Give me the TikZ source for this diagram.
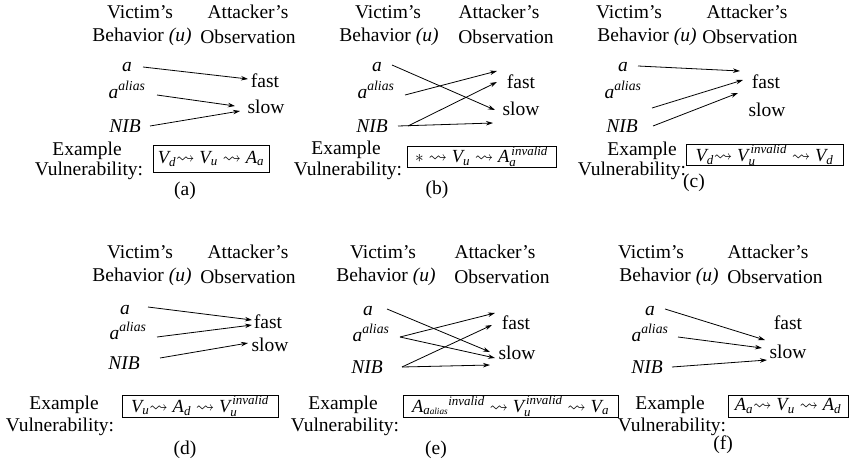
\documentclass[tikz,border=0pt]{standalone}
\usepackage{amsmath,amssymb}
\usepackage{fontspec}
\setmainfont{Liberation Serif}
\usetikzlibrary{arrows.meta}
\newcommand{\itx}[1]{\textit{#1}}
\newcommand{\sq}{\rightsquigarrow}
\newcommand{\tsq}{\mathrel{\mkern-5mu\rightsquigarrow}}
\tikzset{
  txt/.style={inner sep=0pt, font=\fontsize{19.5}{22}\selectfont},
  arr/.style={-{Stealth[length=7pt,width=4.5pt]}, line width=0.8pt},
  vbox/.style={draw, line width=0.8pt, inner sep=0pt, font=\fontsize{18.5}{20}\selectfont}
}
\begin{document}
\begin{tikzpicture}[x=1pt,y=-1pt]
\useasboundingbox (0,0) rectangle (849,466);
% ---------- panel (a)
\node[txt] (v1) at (140,12) {Victim’s};
\node[txt] (b1) at (142,37) {Behavior \itx{(u)}};
\node[txt] (t1) at (248,12) {Attacker’s};
\node[txt] (o1) at (248,37) {Observation};
\node[txt] (a1) at (127,67) {\itx{a}};
\node[txt] (l1) at (127,90) {\itx{a}$^{\itx{alias}}$};
\node[txt] (n1) at (125,126) {\itx{NIB}};
\node[txt] (f1) at (265,81) {fast};
\node[txt] (s1) at (266,107) {slow};
\draw[arr] ([shift={(16,0)}]a1.center) -- ([shift={(-17,-2)}]f1.center);
\draw[arr] ([shift={(30,5)}]l1.center) -- ([shift={(-31,-1)}]s1.center);
\draw[arr] ([shift={(25,0)}]n1.center) -- ([shift={(-26,4)}]s1.center);
\node[txt] (e1) at (87,151) {Example};
\node[txt] (u1) at (89,171) {Vulnerability:};
\node[vbox, minimum width=116pt, minimum height=27pt] (x1) at (211,158.5) {$\itx{V}_{\itx{d}}\tsq \itx{V}_{\itx{u}}\sq \itx{A}_{\itx{a}}$};
\node[txt] (c1) at (185,191) {(a)};
% ---------- panel (b)
\node[txt] (v2) at (388,12) {Victim’s};
\node[txt] (b2) at (389,37) {Behavior \itx{(u)}};
\node[txt] (t2) at (499,12) {Attacker’s};
\node[txt] (o2) at (506,37) {Observation};
\node[txt] (a2) at (377,67) {\itx{a}};
\node[txt] (l2) at (376,90) {\itx{a}$^{\itx{alias}}$};
\node[txt] (n2) at (372,126) {\itx{NIB}};
\node[txt] (f2) at (521,82) {fast};
\node[txt] (s2) at (521,109) {slow};
\draw[arr] ([shift={(15,-2)}]a2.center) -- ([shift={(-26,1)}]s2.center);
\draw[arr] ([shift={(29,5)}]l2.center) -- ([shift={(-24,-11)}]f2.center);
\draw[arr] ([shift={(36,0)}]n2.center) -- ([shift={(-24,0)}]f2.center);
\draw[arr] ([shift={(26,0)}]n2.center) -- ([shift={(-28,14)}]s2.center);
\node[txt] (e2) at (346,150) {Example};
\node[txt] (u2) at (348,171) {Vulnerability:};
\node[vbox, minimum width=149pt, minimum height=21pt] (x2) at (481.5,156.5) {$*\sq \itx{V}_{\itx{u}}\sq \itx{A}_{\itx{a}}^{\,\itx{invalid}}$};
\node[txt] (c2) at (437,190) {(b)};
% ---------- panel (c)
\node[txt] (v3) at (629,12) {Victim’s};
\node[txt] (b3) at (647,37) {Behavior \itx{(u)}};
\node[txt] (t3) at (747,12) {Attacker’s};
\node[txt] (o3) at (750,37) {Observation};
\node[txt] (a3) at (623,67) {\itx{a}};
\node[txt] (l3) at (623,90) {\itx{a}$^{\itx{alias}}$};
\node[txt] (n3) at (622,126) {\itx{NIB}};
\node[txt] (f3) at (766,82) {fast};
\node[txt] (s3) at (767,110) {slow};
\draw[arr] ([shift={(15,-1)}]a3.center) -- ([shift={(-26,-11)}]f3.center);
\draw[arr] ([shift={(29,18)}]l3.center) -- ([shift={(-23,-2)}]f3.center);
\draw[arr] ([shift={(31,0)}]n3.center) -- ([shift={(-28,11)}]f3.center);
\node[txt] (e3) at (642,151) {Example};
\node[txt] (u3) at (632,171) {Vulnerability:};
\node[vbox, minimum width=157pt, minimum height=21pt] (x3) at (764.5,155) {$\itx{V}_{\itx{d}}\tsq \itx{V}_{\itx{u}}^{\,\itx{invalid}}\sq \itx{V}_{\itx{d}}$};
\node[txt] (c3) at (694,183) {(c)};
% ---------- panel (d)
\node[txt] (v4) at (140,252) {Victim’s};
\node[txt] (b4) at (142,277) {Behavior \itx{(u)}};
\node[txt] (t4) at (248,252) {Attacker’s};
\node[txt] (o4) at (248,277) {Observation};
\node[txt] (a4) at (125,310) {\itx{a}};
\node[txt] (l4) at (128,331) {\itx{a}$^{\itx{alias}}$};
\node[txt] (n4) at (124,363) {\itx{NIB}};
\node[txt] (f4) at (268,322) {fast};
\node[txt] (s4) at (270,345) {slow};
\draw[arr] ([shift={(23,-3)}]a4.center) -- ([shift={(-16,-2)}]f4.center);
\draw[arr] ([shift={(29,6)}]l4.center) -- ([shift={(-16,3)}]f4.center);
\draw[arr] ([shift={(36,-5)}]n4.center) -- ([shift={(-22,-2)}]s4.center);
\node[txt] (e4) at (64,405) {Example};
\node[txt] (u4) at (60,427) {Vulnerability:};
\node[vbox, minimum width=156pt, minimum height=22pt] (x4) at (200,406) {$\itx{V}_{\itx{u}}\tsq \itx{A}_{\itx{d}}\sq \itx{V}_{\itx{u}}^{\,\itx{invalid}}$};
\node[txt] (c4) at (185,450) {(d)};
% ---------- panel (e)
\node[txt] (v5) at (383,252) {Victim’s};
\node[txt] (b5) at (386,277) {Behavior \itx{(u)}};
\node[txt] (t5) at (495,252) {Attacker’s};
\node[txt] (o5) at (502,277) {Observation};
\node[txt] (a5) at (368,311) {\itx{a}};
\node[txt] (l5) at (371,333) {\itx{a}$^{\itx{alias}}$};
\node[txt] (n5) at (367,367) {\itx{NIB}};
\node[txt] (f5) at (516,323) {fast};
\node[txt] (s5) at (517,353) {slow};
\draw[arr] ([shift={(19,-2)}]a5.center) -- ([shift={(-27,-1)}]s5.center);
\draw[arr] ([shift={(29,4)}]l5.center) -- ([shift={(-21,-10)}]f5.center);
\draw[arr] ([shift={(29,4)}]l5.center) -- ([shift={(-22,5)}]s5.center);
\draw[arr] ([shift={(35,0)}]n5.center) -- ([shift={(-24,2)}]f5.center);
\draw[arr] ([shift={(35,0)}]n5.center) -- ([shift={(-27,12)}]s5.center);
\node[txt] (e5) at (343,405) {Example};
\node[txt] (u5) at (345,427) {Vulnerability:};
\node[vbox, minimum width=215pt, minimum height=22pt] (x5) at (510.5,406) {$\itx{A}_{\itx{a}\scriptscriptstyle\itx{alias}}{}^{\itx{invalid}}\sq \itx{V}_{\itx{u}}^{\,\itx{invalid}}\sq \itx{V}_{\itx{a}}$};
\node[txt] (c5) at (436,450) {(e)};
% ---------- panel (f)
\node[txt] (v6) at (651,252) {Victim’s};
\node[txt] (b6) at (669,277) {Behavior \itx{(u)}};
\node[txt] (t6) at (768,252) {Attacker’s};
\node[txt] (o6) at (775,277) {Observation};
\node[txt] (a6) at (650,311) {\itx{a}};
\node[txt] (l6) at (650,333) {\itx{a}$^{\itx{alias}}$};
\node[txt] (n6) at (647,367) {\itx{NIB}};
\node[txt] (f6) at (788,323) {fast};
\node[txt] (s6) at (788,352) {slow};
\draw[arr] ([shift={(15,-2)}]a6.center) -- ([shift={(-23,-12)}]s6.center);
\draw[arr] ([shift={(28,4)}]l6.center) -- ([shift={(-26,-4)}]s6.center);
\draw[arr] ([shift={(25,0)}]n6.center) -- ([shift={(-21,8)}]s6.center);
\node[txt] (e6) at (670,405) {Example};
\node[txt] (u6) at (672,427) {Vulnerability:};
\node[vbox, minimum width=120pt, minimum height=22pt] (x6) at (788,406) {$\itx{A}_{\itx{a}}\tsq \itx{V}_{\itx{u}}\sq \itx{A}_{\itx{d}}$};
\node[txt] (c6) at (723,445) {(f)};
\end{tikzpicture}
\end{document}
